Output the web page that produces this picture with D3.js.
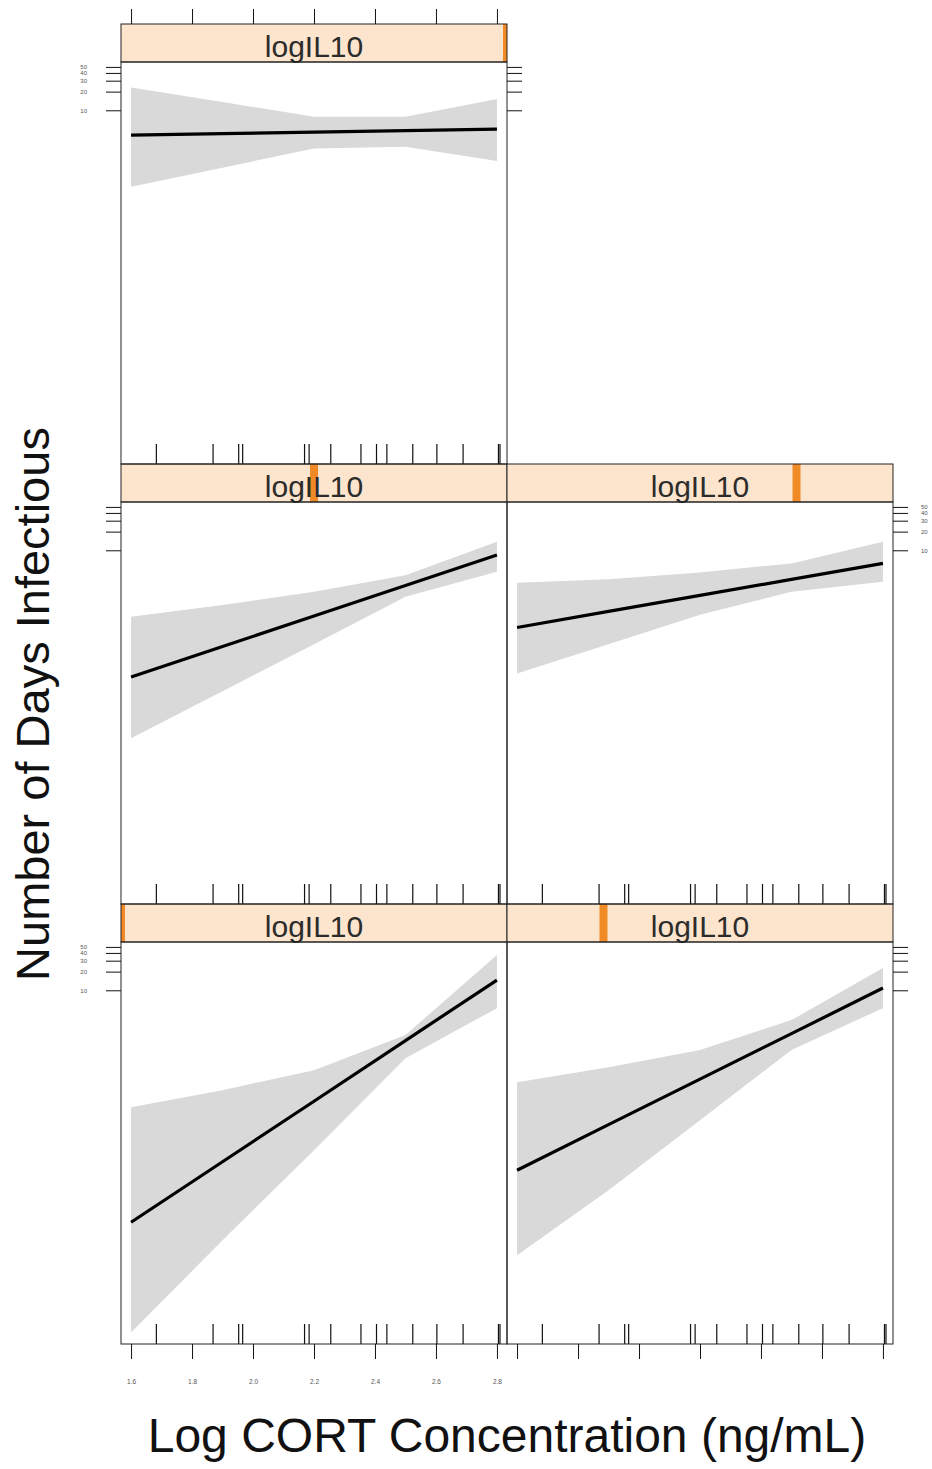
<!DOCTYPE html>
<html>
<head>
<meta charset="utf-8">
<script src="https://cdn.jsdelivr.net/npm/d3@7"></script>
<style>
  html, body { margin: 0; padding: 0; background: #fff; }
  svg { display: block; font-family: "Liberation Sans", Arial, sans-serif; }
</style>
</head>
<body>
<svg id="chart" width="932" height="1469"></svg>
<script>
// Effect of log CORT on days infectious, conditioned on five logIL10 levels.
// Panels run from the lowest logIL10 (bottom-left) to the highest (top-left).

const cortTicks = [1.6, 1.8, 2.0, 2.2, 2.4, 2.6, 2.8];
const daysTicks = [10, 20, 30, 40, 50];
const cortGrid = [1.6, 1.9, 2.2, 2.5, 2.8];
const cortObserved = [1.683, 1.869, 1.953, 1.966, 2.169, 2.184, 2.255, 2.354,
                      2.405, 2.439, 2.524, 2.603, 2.689, 2.805, 2.81];

const il10Range = [0.9, 2.9];
const il10Levels = [0.9, 1.4, 1.9, 2.4, 2.9];
const stripLabel = "logIL10";

// fitted days and 95% limits at each cortGrid value, one set per logIL10 level
const fit1 = [0.00183, 0.0173, 0.163, 1.55, 14.6];
const lower1 = [3.07e-5, 9.37e-4, 0.0265, 0.807, 5.16];
const upper1 = [0.131, 0.246, 0.517, 1.90, 37.0];

const fit2 = [0.0126, 0.0684, 0.370, 2.00, 10.9];
const lower2 = [5.37e-4, 0.0060, 0.0807, 1.09, 5.16];
const upper2 = [0.331, 0.578, 1.09, 3.31, 22.9];

const fit3 = [0.0912, 0.282, 0.875, 2.70, 8.38];
const lower3 = [0.00937, 0.0537, 0.307, 1.78, 4.51];
const upper3 = [0.847, 1.31, 2.14, 3.98, 13.7];

const fit4 = [0.571, 1.035, 1.875, 3.40, 6.15];
const lower4 = [0.1035, 0.307, 0.912, 2.14, 3.11];
const upper4 = [3.0, 3.4, 4.4, 6.15, 13.7];

const fit5 = [3.99, 4.21, 4.46, 4.71, 4.98];
const lower5 = [0.585, 1.19, 2.43, 2.58, 1.53];
const upper5 = [23.4, 13.6, 7.87, 7.87, 15.2];

const fits = [fit1, fit2, fit3, fit4, fit5];
const lowers = [lower1, lower2, lower3, lower4, lower5];
const uppers = [upper1, upper2, upper3, upper4, upper5];

// ---- layout ----
const colX = [121, 507];
const panelW = 386;
const rowTop = [24, 464, 904];
const stripH = 38;
const panelH = 402;
const tickLen = 15;

const svg = d3.select("#chart");

const x = d3.scaleLinear().domain([1.567, 2.833]).range([0, panelW]);
const y = d3.scaleLog().domain([2e-5, 60]).range([panelH, 0]);
const stripX = d3.scaleLinear().domain(il10Range).range([0, panelW]);

const line = d3.line().x((d, i) => x(cortGrid[i])).y(d => y(d));

const defs = svg.append("defs");

il10Levels.forEach((lvl, i) => {
  const col = i % 2;
  const row = 2 - Math.floor(i / 2);
  const px = colX[col];
  const sy = rowTop[row];
  const py = sy + stripH;

  // strip with level indicator
  const strip = svg.append("g").attr("transform", `translate(${px},${sy})`);
  defs.append("clipPath").attr("id", "sclip" + i)
    .append("rect").attr("width", panelW).attr("height", stripH);
  strip.append("rect").attr("width", panelW).attr("height", stripH)
    .attr("fill", "#fde4cc");
  strip.append("rect")
    .attr("clip-path", `url(#sclip${i})`)
    .attr("x", stripX(lvl) - 4).attr("width", 8)
    .attr("y", 0).attr("height", stripH)
    .attr("fill", "#ef8a26");
  strip.append("text")
    .attr("x", panelW / 2).attr("y", 32.5)
    .attr("text-anchor", "middle")
    .attr("font-size", 30)
    .attr("fill", "#2b2b2b")
    .text(stripLabel);
  strip.append("rect").attr("width", panelW).attr("height", stripH)
    .attr("fill", "none").attr("stroke", "#222").attr("stroke-width", 1);

  // panel
  const g = svg.append("g").attr("transform", `translate(${px},${py})`);
  defs.append("clipPath").attr("id", "pclip" + i)
    .append("rect").attr("width", panelW).attr("height", panelH);
  const body = g.append("g").attr("clip-path", `url(#pclip${i})`);

  const area = d3.area()
    .x((d, k) => x(cortGrid[k]))
    .y0((d, k) => y(lowers[i][k]))
    .y1((d, k) => y(uppers[i][k]));
  body.append("path").datum(fits[i]).attr("d", area).attr("fill", "#d9d9d9");
  body.append("path").datum(fits[i]).attr("d", line)
    .attr("fill", "none").attr("stroke", "#000").attr("stroke-width", 3.2);

  // rug of observed CORT values
  body.selectAll("line.rug").data(cortObserved).join("line")
    .attr("class", "rug")
    .attr("x1", d => x(d)).attr("x2", d => x(d))
    .attr("y1", panelH - 20).attr("y2", panelH)
    .attr("stroke", "#111").attr("stroke-width", 1.2);

  g.append("rect").attr("width", panelW).attr("height", panelH)
    .attr("fill", "none").attr("stroke", "#222").attr("stroke-width", 1);

  const clean = sel => { sel.select(".domain").remove(); sel.selectAll("line").attr("stroke", "#111"); };
  const small = (a, size) => a.selectAll("text").attr("font-size", size).attr("fill", "#555")
    .attr("font-family", "Liberation Sans, Arial, sans-serif");

  // left axis on every row; labels on the outer rows
  if (col === 0) {
    const labelled = row !== 1;
    g.append("g")
      .call(d3.axisLeft(y).tickValues(daysTicks).tickSize(tickLen).tickPadding(19)
        .tickFormat(labelled ? d3.format("d") : () => ""))
      .call(clean)
      .call(a => small(a, 6));
  }
  // right axis on the rightmost panel of each row; labels on the middle row
  const rightmost = col === 1 || i === 4;
  if (rightmost) {
    const labelled = row === 1;
    g.append("g").attr("transform", `translate(${panelW},0)`)
      .call(d3.axisRight(y).tickValues(daysTicks).tickSize(tickLen).tickPadding(13)
        .tickFormat(labelled ? d3.format("d") : () => ""))
      .call(clean)
      .call(a => small(a, 6));
  }
  // bottom axis under the lowest row; labels under the first column
  if (row === 2) {
    g.append("g").attr("transform", `translate(0,${panelH})`)
      .call(d3.axisBottom(x).tickValues(cortTicks).tickSize(tickLen).tickPadding(20)
        .tickFormat(col === 0 ? d3.format(".1f") : () => ""))
      .call(clean)
      .call(a => small(a, 6.5));
  }
  // top axis above the top strip
  if (row === 0) {
    svg.append("g").attr("transform", `translate(${px},${sy})`)
      .call(d3.axisTop(x).tickValues(cortTicks).tickSize(tickLen).tickFormat(() => ""))
      .call(clean);
  }
});

// axis titles
svg.append("text")
  .attr("x", 507).attr("y", 1452)
  .attr("text-anchor", "middle")
  .attr("font-size", 48)
  .attr("fill", "#111")
  .text("Log CORT Concentration (ng/mL)");

svg.append("text")
  .attr("transform", "translate(49,704) rotate(-90)")
  .attr("text-anchor", "middle")
  .attr("font-size", 47)
  .attr("fill", "#111")
  .text("Number of Days Infectious");
</script>
</body>
</html>
